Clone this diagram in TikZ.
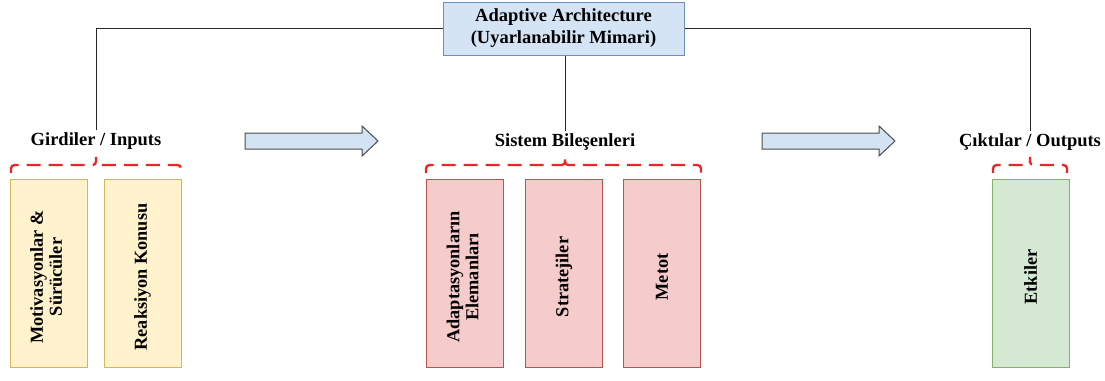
\documentclass[tikz,border=0pt]{standalone}
\usepackage{fontspec}
\setmainfont{Liberation Serif}
\definecolor{topfill}{HTML}{D5E4F5}
\definecolor{topdraw}{HTML}{6C8EBF}
\definecolor{yfill}{HTML}{FFF2CC}
\definecolor{ydraw}{HTML}{D6B656}
\definecolor{rfill}{HTML}{F5CCCB}
\definecolor{rdraw}{HTML}{B85450}
\definecolor{gfill}{HTML}{D5E8D4}
\definecolor{gdraw}{HTML}{82B366}
\definecolor{afill}{HTML}{D3E3F4}
\definecolor{bracered}{HTML}{E8262A}
% upright column caption, nudged slightly below the box centre
\newcommand{\vlabel}[1]{\rotatebox{90}{#1\hspace*{8pt}}}
\tikzset{
  x=1pt, y=-1pt,
  heading/.style={font=\fontsize{18.5}{20}\selectfont\bfseries, inner sep=2pt},
  column/.style={draw, line width=1pt, minimum width=77pt, minimum height=188pt,
    inner sep=0pt, font=\fontsize{18.3}{19}\selectfont\bfseries, align=center},
  inbox/.style={column, fill=yfill, draw=ydraw},
  sysbox/.style={column, fill=rfill, draw=rdraw},
  outbox/.style={column, fill=gfill, draw=gdraw},
  link/.style={line width=0.8pt, draw=black!85},
  blockarrow/.style={draw=black!70, fill=afill, line width=1pt, line join=miter},
  groupbrace/.style={draw=bracered, line width=2.3pt, dash pattern=on 14pt off 8pt},
}
\begin{document}
\begin{tikzpicture}
\useasboundingbox (0,0) rectangle (1105,380);

% root box
\node[draw=topdraw, fill=topfill, line width=1pt, minimum width=241pt, minimum height=53pt,
      align=center, font=\fontsize{18.5}{22}\selectfont\bfseries] (top) at (563.5,28.5)
  {Adaptive Architecture\\(Uyarlanabilir Mimari)};

% group headings
\node[heading] (in)  at (96,141) {Girdiler / Inputs};
\node[heading] (sys) at (565,142) {Sistem Bileşenleri};
\node[heading] (out) at (1030,142) {Çıktılar / Outputs};

% tree connectors
\draw[link] (top.west) -| (in.north);
\draw[link] (top.east) -| (out.north);
\draw[link] (top.south -| sys.north) -- (sys.north);

% flow arrows
\draw[blockarrow] (245,133) -- (362,133) -- (362,126) -- (378,141) -- (362,156) -- (362,149) -- (245,149) -- cycle;
\draw[blockarrow] (762,133) -- (879,133) -- (879,126) -- (895,141) -- (879,156) -- (879,149) -- (762,149) -- cycle;

% grouping braces: left end, tip, right end
\foreach \l/\c/\r in {11/96/181, 426/565/701, 993/1030/1067}{
  \draw[groupbrace] (\l,173) .. controls (\l,165) .. (\l+8,165) -- (\c-7,165)
    .. controls (\c,165) .. (\c,157) .. controls (\c,165) .. (\c+7,165)
    -- (\r-8,165) .. controls (\r,165) .. (\r,173);
}

% inputs
\node[inbox] (m)  at (48.5,273)  {\vlabel{\begin{tabular}{@{}c@{}}Motivasyonlar \&\\Sürücüler\end{tabular}}};
\node[inbox] (rk) at (142.5,273) {\vlabel{Reaksiyon Konusu}};

% system components
\node[sysbox] (ae) at (465,273) {\vlabel{\begin{tabular}{@{}c@{}}Adaptasyonların\\Elemanları\end{tabular}}};
\node[sysbox] (st) at (564,273) {\vlabel{Stratejiler}};
\node[sysbox] (me) at (662,273) {\vlabel{Metot}};

% outputs
\node[outbox] (et) at (1030.5,273) {\vlabel{Etkiler}};
\end{tikzpicture}
\end{document}
